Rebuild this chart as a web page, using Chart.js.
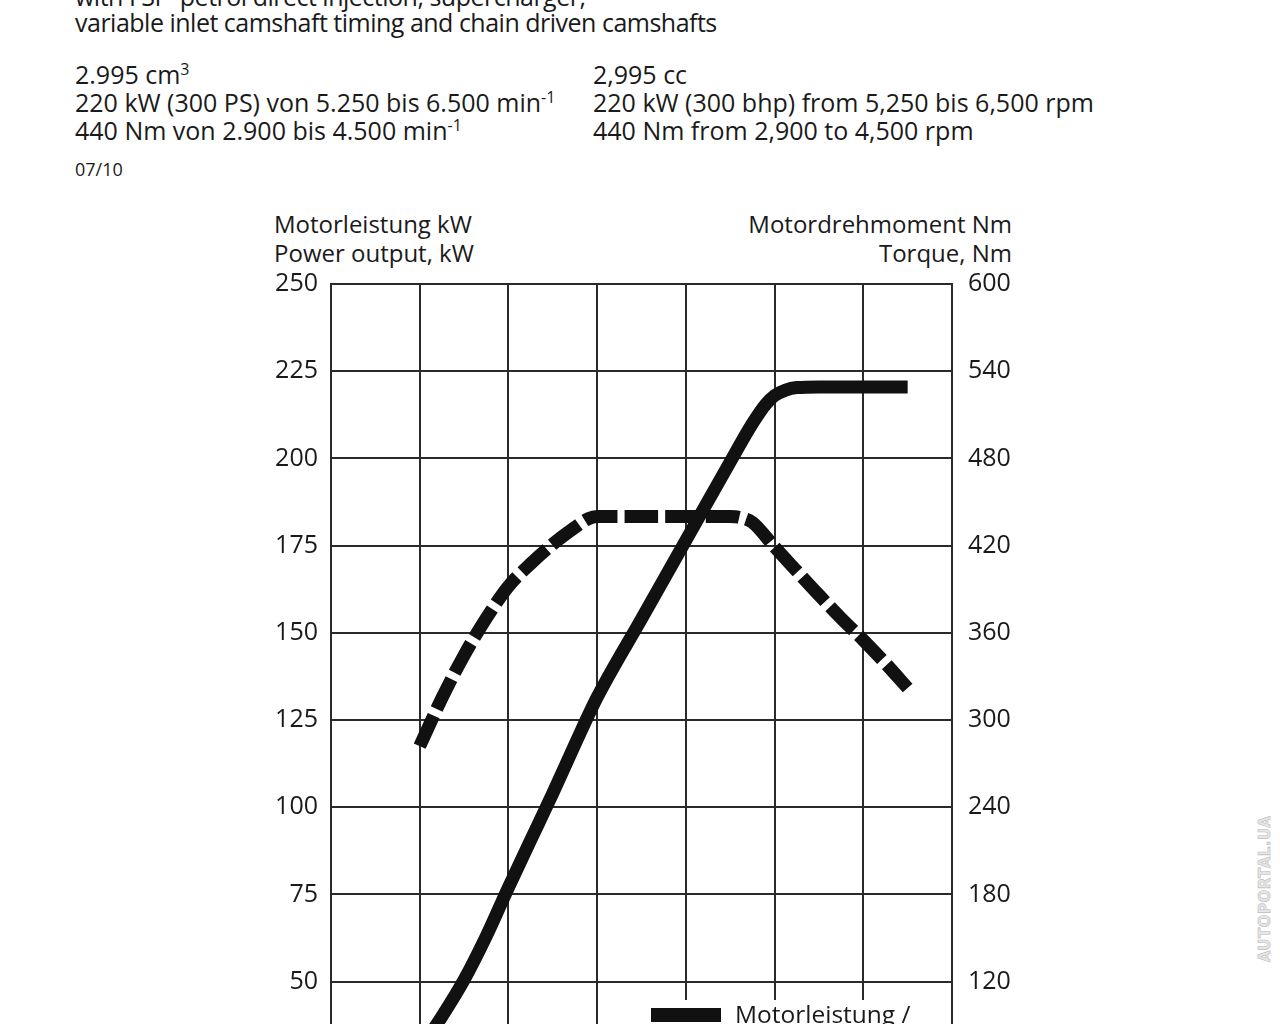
<!DOCTYPE html>
<html lang="de">
<head>
<meta charset="UTF-8">
<title>Leistung und Drehmoment</title>
<script src="https://cdn.jsdelivr.net/npm/chart.js"></script>
<style>
    html, body {
        margin: 0;
        padding: 0;
        width: 1280px;
        height: 1024px;
        overflow: hidden;
        background: #fff;
        font-family: "Open Sans", sans-serif;
        color: #1a1a1a;
    }
    .txt {
        position: absolute;
        white-space: nowrap;
        font-size: 25px;
        line-height: 28px;
    }
    .txt sup { font-size: 16px; vertical-align: 9px; line-height: 0; }
    .narrow { letter-spacing: -0.5px; }
    .small { font-size: 18px; }
    .axis-title {
        position: absolute;
        font-size: 24px;
        line-height: 29px;
        white-space: nowrap;
    }
    #wrap {
        position: absolute;
        left: 260px;
        top: 253px;
        width: 780px;
        height: 935px;
    }
    .legend {
        position: absolute;
        left: 600px;
        top: 1000px;
        width: 350px;
        height: 60px;
        background: #fff;
    }
    .legend .swatch {
        position: absolute;
        left: 51px;
        top: 8px;
        width: 70px;
        height: 14px;
        background: #111;
    }
    .legend .label {
        position: absolute;
        left: 135px;
        top: -3px;
        font-size: 24.5px;
        white-space: nowrap;
    }
    .watermark {
        position: absolute;
        left: 1190px;
        top: 880px;
        width: 150px;
        text-align: center;
        transform: rotate(-90deg);
        font: bold 15px "DejaVu Sans", sans-serif;
        color: #e6e6e6;
        -webkit-text-stroke: 0.6px #bdbdbd;
        letter-spacing: 0.5px;
    }
</style>
</head>
<body>
    <div class="txt narrow" style="left:75px; top:-18px;">with FSI<sup>®</sup> petrol direct injection, supercharger,</div>
    <div class="txt narrow" style="left:75px; top:8px;">variable inlet camshaft timing and chain driven camshafts</div>

    <div class="txt" style="left:75px; top:60px;">2.995 cm<sup>3</sup><br>220 kW (300 PS) von 5.250 bis 6.500 min<sup>-1</sup><br>440 Nm von 2.900 bis 4.500 min<sup>-1</sup></div>
    <div class="txt" style="left:593px; top:60px;">2,995 cc<br>220 kW (300 bhp) from 5,250 bis 6,500 rpm<br>440 Nm from 2,900 to 4,500 rpm</div>
    <div class="txt small" style="left:75px; top:155px;">07/10</div>

    <div class="axis-title" style="left:274px; top:209px;">Motorleistung kW<br>Power output, kW</div>
    <div class="axis-title" style="right:268px; top:209px; text-align:right;">Motordrehmoment Nm<br>Torque, Nm</div>

    <div id="wrap"><canvas id="chart"></canvas></div>

    <div class="legend">
        <div class="swatch"></div>
        <div class="label">Motorleistung /</div>
    </div>

    <div class="watermark">AUTOPORTAL.UA</div>

<script>
    // engine speed, 1/min
    const rpmTicks = [0, 1000, 2000, 3000, 4000, 5000, 6000, 7000];
    const powerTicks = [0, 25, 50, 75, 100, 125, 150, 175, 200, 225, 250];
    const torqueTicks = [0, 60, 120, 180, 240, 300, 360, 420, 480, 540, 600];

    // power output, kW
    const powerRpm = [1000, 1250, 1500, 1750, 2000, 2250, 2500, 2750, 3000, 3500, 4000, 4500, 4750, 4900, 5000, 5125, 5250, 5500, 6000, 6500];
    const powerKw = [30.5, 40, 50.5, 63, 77, 90.5, 104, 118, 131.5, 154, 176.5, 199, 210, 215.5, 218, 219.6, 220.3, 220.5, 220.5, 220.5];

    // torque, Nm
    const torqueRpm = [1000, 1250, 1500, 1750, 2000, 2250, 2500, 2750, 2900, 3000, 3500, 4000, 4500, 4600, 4750, 5000, 5250, 5500, 5750, 6000, 6250, 6500];
    const torqueNm = [282, 315, 344.5, 370, 392, 407.5, 421, 432.5, 438.5, 440, 440, 440, 440, 439.5, 436, 419, 402.5, 386, 370, 355, 339, 322];

    const gridColor = '#2a2a2a';
    const tickFont = { family: 'Open Sans', size: 25 };

    function fixedTicks(values) {
        return function (scale) {
            scale.ticks = values.map(v => ({ value: v }));
        };
    }

    const ctx = document.getElementById('chart').getContext('2d');
    const chart = new Chart(ctx, {
        type: 'line',
        data: {
            datasets: [
                {
                    label: 'Motorleistung / Power output',
                    data: powerRpm.map((x, i) => ({ x: x, y: powerKw[i] })),
                    yAxisID: 'yPower',
                    borderColor: '#111',
                    borderWidth: 13,
                    borderCapStyle: 'butt',
                    borderJoinStyle: 'round',
                    pointRadius: 0,
                    cubicInterpolationMode: 'monotone',
                    fill: false
                },
                {
                    label: 'Motordrehmoment / Torque',
                    data: torqueRpm.map((x, i) => ({ x: x, y: torqueNm[i] })),
                    yAxisID: 'yTorque',
                    borderColor: '#111',
                    borderWidth: 13,
                    borderDash: [33.5, 7.1],
                    borderCapStyle: 'butt',
                    pointRadius: 0,
                    cubicInterpolationMode: 'monotone',
                    fill: false
                }
            ]
        },
        options: {
            responsive: true,
            maintainAspectRatio: false,
            animation: false,
            layout: { padding: { top: 0, bottom: 32, left: 0, right: 0 } },
            plugins: {
                legend: { display: false },
                tooltip: { enabled: false }
            },
            scales: {
                x: {
                    type: 'linear',
                    min: 0,
                    max: 7000,
                    afterBuildTicks: fixedTicks(rpmTicks),
                    ticks: { display: false },
                    grid: { color: gridColor, lineWidth: 2, drawTicks: false },
                    border: { display: false }
                },
                yPower: {
                    type: 'linear',
                    position: 'left',
                    min: 0,
                    max: 250,
                    afterBuildTicks: fixedTicks(powerTicks),
                    afterFit: function (scale) { scale.width = 71; },
                    ticks: { font: tickFont, color: '#1a1a1a', padding: 13 },
                    grid: { color: gridColor, lineWidth: 2, drawTicks: false },
                    border: { display: true, color: gridColor, width: 2 }
                },
                yTorque: {
                    type: 'linear',
                    position: 'right',
                    min: 0,
                    max: 600,
                    afterBuildTicks: fixedTicks(torqueTicks),
                    afterFit: function (scale) { scale.width = 88; },
                    ticks: { font: tickFont, color: '#1a1a1a', padding: 16 },
                    grid: { drawOnChartArea: false, drawTicks: false },
                    border: { display: true, color: gridColor, width: 2 }
                }
            }
        }
    });
</script>
</body>
</html>
